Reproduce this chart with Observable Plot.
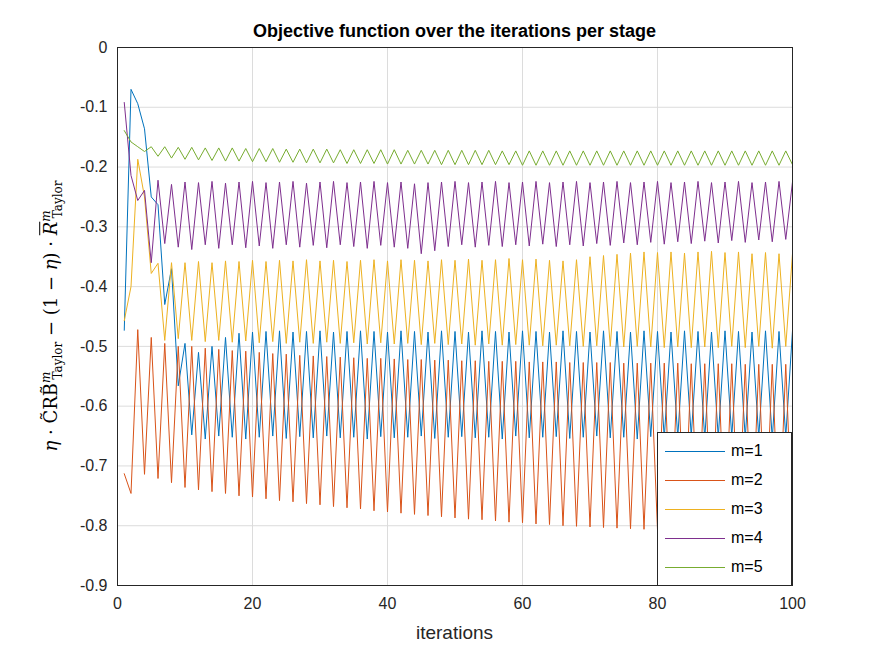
<!DOCTYPE html>
<html><head><meta charset="utf-8">
<script src="https://cdn.jsdelivr.net/npm/d3@7"></script>
<script src="https://cdn.jsdelivr.net/npm/@observablehq/plot@0.6"></script>
<style>
body{margin:0;background:#fff;font-family:"Liberation Sans",Arial,sans-serif;}
#wrap{position:relative;width:875px;height:656px;}
.ov{position:absolute;color:#000;white-space:nowrap;}
</style></head><body><div id="wrap"></div>
<script>
const seriesNames = ["m=1","m=2","m=3","m=4","m=5"];
const colors = ["#0072BD","#D95319","#EDB120","#7E2F8E","#77AC30"];
const yTicks = [0,-0.1,-0.2,-0.3,-0.4,-0.5,-0.6,-0.7,-0.8,-0.9];
const xTicks = [0,20,40,60,80,100];
const m1 = [
-0.473,-0.070,-0.094,-0.136,-0.250,-0.263,-0.430,-0.370,-0.566,-0.495,
-0.648,-0.510,-0.655,-0.500,-0.650,-0.485,-0.652,-0.478,-0.655,-0.476,
-0.652,-0.475,-0.650,-0.474,-0.654,-0.476,-0.651,-0.475,-0.653,-0.474,
-0.650,-0.476,-0.653,-0.475,-0.652,-0.474,-0.655,-0.475,-0.651,-0.476,
-0.653,-0.474,-0.652,-0.475,-0.650,-0.476,-0.654,-0.474,-0.652,-0.475,
-0.651,-0.476,-0.653,-0.474,-0.652,-0.475,-0.655,-0.476,-0.650,-0.474,
-0.653,-0.475,-0.652,-0.476,-0.651,-0.474,-0.654,-0.475,-0.652,-0.476,
-0.650,-0.474,-0.653,-0.475,-0.652,-0.476,-0.655,-0.474,-0.651,-0.475,
-0.653,-0.476,-0.652,-0.474,-0.650,-0.475,-0.654,-0.476,-0.652,-0.474,
-0.651,-0.475,-0.653,-0.476,-0.652,-0.474,-0.655,-0.475,-0.651,-0.474];
const m2 = [
-0.713,-0.746,-0.472,-0.714,-0.485,-0.721,-0.495,-0.728,-0.500,-0.736,
-0.500,-0.740,-0.503,-0.743,-0.505,-0.746,-0.507,-0.750,-0.508,-0.752,
-0.510,-0.755,-0.512,-0.758,-0.513,-0.760,-0.515,-0.763,-0.516,-0.765,
-0.517,-0.768,-0.518,-0.770,-0.519,-0.772,-0.520,-0.775,-0.520,-0.777,
-0.521,-0.779,-0.522,-0.781,-0.522,-0.783,-0.523,-0.785,-0.523,-0.787,
-0.524,-0.789,-0.524,-0.790,-0.525,-0.792,-0.525,-0.794,-0.525,-0.795,
-0.526,-0.797,-0.526,-0.798,-0.526,-0.800,-0.527,-0.801,-0.527,-0.802,
-0.527,-0.803,-0.527,-0.804,-0.528,-0.805,-0.528,-0.806,-0.528,-0.807,
-0.528,-0.808,-0.528,-0.809,-0.529,-0.810,-0.529,-0.810,-0.529,-0.811,
-0.529,-0.812,-0.530,-0.812,-0.530,-0.813,-0.530,-0.814,-0.530,-0.815];
const m3 = [
-0.457,-0.400,-0.187,-0.250,-0.378,-0.361,-0.490,-0.360,-0.487,-0.360,
-0.490,-0.358,-0.492,-0.360,-0.490,-0.357,-0.493,-0.358,-0.491,-0.356,
-0.494,-0.358,-0.492,-0.356,-0.495,-0.357,-0.493,-0.355,-0.495,-0.357,
-0.493,-0.356,-0.495,-0.358,-0.494,-0.356,-0.496,-0.355,-0.494,-0.357,
-0.496,-0.355,-0.495,-0.356,-0.497,-0.357,-0.495,-0.355,-0.497,-0.356,
-0.496,-0.354,-0.498,-0.356,-0.496,-0.355,-0.498,-0.353,-0.497,-0.355,
-0.498,-0.354,-0.499,-0.356,-0.498,-0.357,-0.499,-0.355,-0.500,-0.350,
-0.499,-0.348,-0.500,-0.346,-0.501,-0.344,-0.500,-0.342,-0.501,-0.343,
-0.502,-0.342,-0.501,-0.344,-0.502,-0.342,-0.501,-0.341,-0.502,-0.343,
-0.500,-0.342,-0.502,-0.345,-0.500,-0.343,-0.503,-0.345,-0.500,-0.345];
const m4 = [
-0.092,-0.214,-0.256,-0.239,-0.360,-0.222,-0.328,-0.229,-0.334,-0.225,
-0.338,-0.226,-0.330,-0.224,-0.336,-0.227,-0.330,-0.225,-0.335,-0.224,
-0.332,-0.226,-0.336,-0.225,-0.330,-0.224,-0.334,-0.227,-0.331,-0.225,
-0.335,-0.224,-0.330,-0.226,-0.333,-0.225,-0.336,-0.224,-0.331,-0.226,
-0.334,-0.225,-0.336,-0.228,-0.345,-0.226,-0.340,-0.225,-0.333,-0.224,
-0.330,-0.226,-0.334,-0.225,-0.331,-0.224,-0.333,-0.226,-0.330,-0.225,
-0.332,-0.224,-0.329,-0.226,-0.333,-0.225,-0.330,-0.224,-0.332,-0.226,
-0.328,-0.225,-0.331,-0.224,-0.327,-0.226,-0.330,-0.225,-0.326,-0.224,
-0.329,-0.226,-0.325,-0.225,-0.328,-0.224,-0.324,-0.226,-0.327,-0.225,
-0.323,-0.224,-0.326,-0.226,-0.322,-0.225,-0.325,-0.224,-0.321,-0.225];
const m5 = [
-0.139,-0.158,-0.166,-0.174,-0.166,-0.182,-0.166,-0.185,-0.167,-0.187,
-0.167,-0.188,-0.168,-0.189,-0.168,-0.190,-0.168,-0.190,-0.169,-0.191,
-0.169,-0.191,-0.169,-0.192,-0.170,-0.192,-0.170,-0.193,-0.170,-0.193,
-0.170,-0.193,-0.171,-0.194,-0.171,-0.194,-0.171,-0.194,-0.171,-0.195,
-0.171,-0.195,-0.172,-0.195,-0.172,-0.195,-0.172,-0.196,-0.172,-0.196,
-0.172,-0.196,-0.172,-0.196,-0.172,-0.196,-0.173,-0.196,-0.173,-0.197,
-0.173,-0.197,-0.173,-0.197,-0.173,-0.197,-0.173,-0.197,-0.173,-0.197,
-0.173,-0.197,-0.173,-0.197,-0.173,-0.197,-0.173,-0.197,-0.173,-0.197,
-0.173,-0.197,-0.173,-0.197,-0.173,-0.197,-0.173,-0.197,-0.173,-0.197,
-0.173,-0.197,-0.173,-0.197,-0.173,-0.197,-0.173,-0.197,-0.173,-0.196];
const all = [m1,m2,m3,m4,m5];
const data = all.flatMap((arr,s)=>arr.map((v,i)=>({it:i+1,v,s:seriesNames[s]})));

const fmt = d=>d===0?"0":d.toFixed(1);
const chart = Plot.plot({
  width:875,height:656,marginLeft:117,marginRight:83,marginTop:47,marginBottom:71,
  style:{fontFamily:"Liberation Sans, Arial, sans-serif",fontSize:"16px",color:"#262626",background:"#fff"},
  x:{domain:[0,100],ticks:xTicks,label:null,tickSize:0,tickPadding:10},
  y:{domain:[-0.9,0],ticks:yTicks,label:null,tickSize:0,tickPadding:10,tickFormat:fmt},
  color:{domain:seriesNames,range:colors},
  marks:[
    Plot.gridX(xTicks,{stroke:"#dcdcdc",strokeOpacity:1}),
    Plot.gridY(yTicks,{stroke:"#dcdcdc",strokeOpacity:1}),
    Plot.axisX({ticks:xTicks,tickSize:0,tickPadding:12,label:null,fontSize:16}),
    Plot.axisY({ticks:yTicks,tickSize:0,tickPadding:10,label:null,fontSize:16,tickFormat:fmt}),
    Plot.lineY(data,{x:"it",y:"v",stroke:"s",strokeWidth:1}),
    Plot.frame({stroke:"#262626",strokeWidth:1})
  ]
});
const wrap=document.getElementById("wrap");
wrap.appendChild(chart);
function ov(html,css){const d=document.createElement("div");d.className="ov";d.innerHTML=html;Object.assign(d.style,css);wrap.appendChild(d);return d;}
ov("Objective function over the iterations per stage",{left:"117px",width:"675px",textAlign:"center",top:"21px",fontSize:"18px",fontWeight:"bold"});
ov("iterations",{left:"117px",width:"675px",textAlign:"center",top:"622px",fontSize:"19px",color:"#262626"});
ov('<i>η</i> · C&#x0303;RB&#x0303;<sup style="font-size:12px"><i>m</i></sup><sub style="font-size:12px;margin-left:-8px">Taylor</sub> − (1 − <i>η</i>) · <span style="text-decoration:overline"><i>R</i></span><sup style="font-size:12px"><i>m</i></sup><sub style="font-size:12px;margin-left:-8px">Taylor</sub>',
 {left:"52px",top:"316px",fontSize:"18px",fontFamily:"'DejaVu Serif',serif",transform:"translate(-50%,-50%) rotate(-90deg)"});
const lg=ov("",{left:"657px",top:"432px",width:"133px",height:"152px",background:"#fff",border:"1px solid #262626"});
seriesNames.forEach((n,i)=>{
  const r=document.createElement("div");
  r.style.cssText=`position:absolute;left:7px;top:${6+i*29}px;height:24px;display:flex;align-items:center;font-size:16px;`;
  r.innerHTML=`<span style="display:inline-block;width:60px;height:1px;background:${colors[i]};margin-right:6px"></span>${n}`;
  lg.appendChild(r);
});
</script></body></html>
